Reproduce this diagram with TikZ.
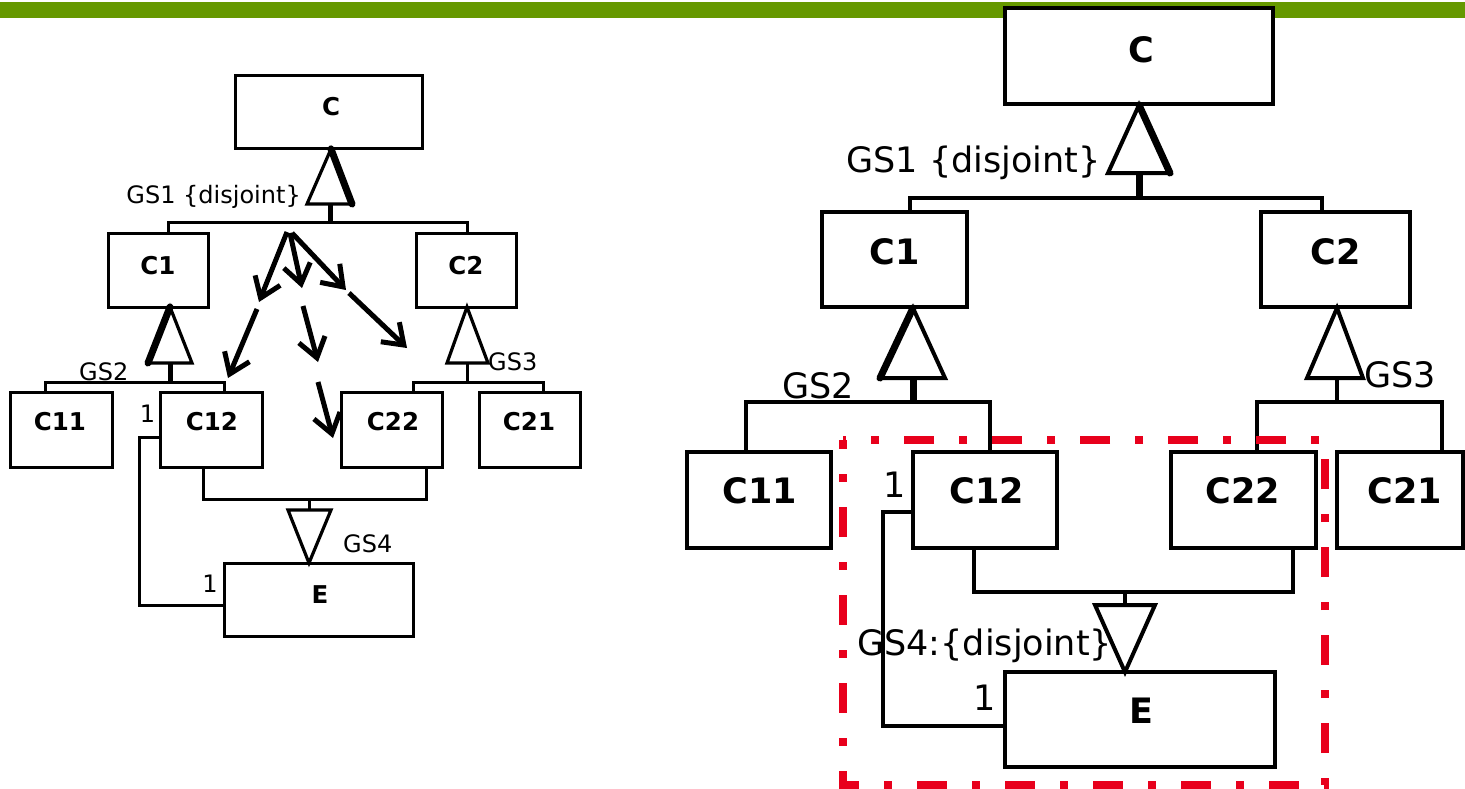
\documentclass[tikz,border=0pt]{standalone}
\usepackage{fontspec}
\setmainfont{DejaVu Sans}
\usetikzlibrary{arrows.meta}
\definecolor{barGreen}{RGB}{102,153,0}
\definecolor{dashRed}{RGB}{232,0,28}
\tikzset{
  lbox/.style={draw, line width=3pt, fill=white, inner sep=0pt},
  rbox/.style={draw, line width=3.8pt, fill=white, inner sep=0pt},
  ltxt/.style={inner sep=0pt, font=\fontsize{24}{28}\selectfont},
  lbold/.style={inner sep=0pt, font=\fontsize{24.5}{28}\selectfont\bfseries},
  rtxt/.style={inner sep=0pt, font=\fontsize{35}{40}\selectfont},
  rbold/.style={inner sep=0pt, font=\fontsize{35}{40}\selectfont\bfseries},
  lline/.style={line width=3pt},
  rline/.style={line width=3.8pt},
  ltri/.style={draw, fill=white, line width=3.2pt, line join=miter},
  rtri/.style={draw, fill=white, line width=4pt, line join=miter},
  thickside/.style={line width=7pt, line cap=round},
  arr/.style={line width=5pt, -{Straight Barb[length=19pt,width=27pt,line width=5pt]}},
  reddash/.style={draw=dashRed, line width=7.5pt, dash pattern=on 30pt off 25pt on 8pt off 25pt, dash phase=21pt},
}
\begin{document}
\begin{tikzpicture}[x=1pt,y=-1pt]
\useasboundingbox (0,0) rectangle (1465,788);
\fill[white] (0,0) rectangle (1465,788);
% green bar
\fill[barGreen] (0,2) rectangle (1465,18);

% ================= LEFT DIAGRAM =================
\node[lbox, minimum width=187pt, minimum height=73pt] (lC) at (328.5,111.5) {};
\node[lbox, minimum width=100pt, minimum height=74pt] (lC1) at (158,270) {};
\node[lbox, minimum width=100pt, minimum height=74pt] (lC2) at (466,270) {};
\node[lbox, minimum width=102pt, minimum height=75pt] (lC11) at (61,429.5) {};
\node[lbox, minimum width=102pt, minimum height=75pt] (lC12) at (211,429.5) {};
\node[lbox, minimum width=101pt, minimum height=75pt] (lC22) at (391.5,429.5) {};
\node[lbox, minimum width=101pt, minimum height=75pt] (lC21) at (529.5,429.5) {};
\node[lbox, minimum width=189pt, minimum height=73pt] (lE) at (318.5,599.5) {};

\node[lbold, anchor=base] (lCt) at (331,115.5) {C};
\node[lbold, anchor=base] (lC1t) at (158,274) {C1};
\node[lbold, anchor=base] (lC2t) at (466,274) {C2};
\node[lbold, anchor=base] (lC11t) at (60,430) {C11};
\node[lbold, anchor=base] (lC12t) at (212,430) {C12};
\node[lbold, anchor=base] (lC22t) at (393,430) {C22};
\node[lbold, anchor=base] (lC21t) at (529,430) {C21};
\node[lbold, anchor=base] (lEt) at (320,603) {E};

% GS1 generalization
\coordinate (lg1a) at (331,149);
\draw[lline] (168,233) -- (168,222) -- (467,222) -- (467,233);
\draw[line width=5pt] (330,204) -- (330,222);
\draw[ltri] (lg1a) -- (352,204) -- (307,204) -- cycle;
\draw[thickside] (lg1a) -- (352,204);
\node[ltxt, anchor=base east] (lgs1) at (301,203) {GS1 \{disjoint\}};

% GS2 generalization
\coordinate (lg2a) at (170,307);
\draw[lline] (45,392) -- (45,382) -- (224,382) -- (224,392);
\draw[line width=5pt] (170,363) -- (170,382);
\draw[ltri] (lg2a) -- (192,363) -- (148,363) -- cycle;
\draw[thickside] (lg2a) -- (148,363);
\node[ltxt, anchor=base west] (lgs2) at (79,380) {GS2};

% GS3 generalization
\coordinate (lg3a) at (467,307);
\draw[lline] (413,392) -- (413,382) -- (543,382) -- (543,392);
\draw[lline] (467,363) -- (467,382);
\draw[ltri] (lg3a) -- (488,363) -- (447,363) -- cycle;
\node[ltxt, anchor=base west] (lgs3) at (488,370) {GS3};

% GS4 generalization
\coordinate (lg4a) at (309,563);
\draw[lline] (203,467) -- (203,499) -- (426,499) -- (426,467);
\draw[lline] (309,499) -- (309,510);
\draw[ltri] (288,510) -- (331,510) -- (lg4a) -- cycle;
\node[ltxt, anchor=base west] (lgs4) at (343,552) {GS4};

% association C12 -- E
\draw[lline] (160,437) -- (139,437) -- (139,605) -- (224,605);
\node[ltxt, anchor=base] (lone1) at (147.5,422) {1};
\node[ltxt, anchor=base] (lone2) at (210,592) {1};

% arrows
\coordinate (a1s) at (287,232); \coordinate (a1m) at (259,302);
\coordinate (a1n) at (257,309); \coordinate (a1e) at (228,378);
\coordinate (a2s) at (290,233); \coordinate (a2m) at (302,288);
\coordinate (a2n) at (303,306); \coordinate (a2o) at (318,362);
\coordinate (a2p) at (318,382); \coordinate (a2e) at (333,438);
\coordinate (a3s) at (292,233); \coordinate (a3m) at (346,290);
\coordinate (a3n) at (349,293); \coordinate (a3e) at (407,348);
\draw[arr] (a1s) -- (a1m);
\draw[arr] (a1n) -- (a1e);
\draw[arr] (a2s) -- (a2m);
\draw[arr] (a2n) -- (a2o);
\draw[arr] (a2p) -- (a2e);
\draw[arr] (a3s) -- (a3m);
\draw[arr] (a3n) -- (a3e);

% ================= RIGHT DIAGRAM =================
\node[rbox, minimum width=268pt, minimum height=96pt] (rC) at (1139,56) {};
\node[rbox, minimum width=145pt, minimum height=95pt] (rC1) at (894.5,259.5) {};
\node[rbox, minimum width=149pt, minimum height=95pt] (rC2) at (1335.5,259.5) {};
\node[rbox, minimum width=144pt, minimum height=96pt] (rC11) at (759,500) {};
\node[rbox, minimum width=144pt, minimum height=96pt] (rC12) at (985,500) {};
\node[rbox, minimum width=145pt, minimum height=96pt] (rC22) at (1243.5,500) {};
\node[rbox, minimum width=126pt, minimum height=96pt] (rC21) at (1400,500) {};
\node[rbox, minimum width=270pt, minimum height=95pt] (rE) at (1140,719.5) {};

\node[rbold, anchor=base] (rCt) at (1141,62.5) {C};
\node[rbold, anchor=base] (rC1t) at (895,264.5) {C1};
\node[rbold, anchor=base] (rC2t) at (1336,264.5) {C2};
\node[rbold, anchor=base] (rC11t) at (760,503) {C11};
\node[rbold, anchor=base] (rC12t) at (987,503) {C12};
\node[rbold, anchor=base] (rC22t) at (1243,503) {C22};
\node[rbold, anchor=base] (rC21t) at (1405,503) {C21};
\node[rbold, anchor=base] (rEt) at (1141,723) {E};

% GS1
\coordinate (rg1a) at (1139,105);
\draw[rline] (910,212) -- (910,198) -- (1322,198) -- (1322,212);
\draw[line width=7pt] (1139,173) -- (1139,198);
\draw[rtri] (rg1a) -- (1170,173) -- (1108,173) -- cycle;
\draw[thickside] (rg1a) -- (1170,173);
\node[rtxt, anchor=base east] (rgs1) at (1101,172) {GS1 \{disjoint\}};

% GS2
\coordinate (rg2a) at (913,308);
\draw[rline] (746,452) -- (746,402) -- (990,402) -- (990,452);
\draw[line width=7pt] (913,378) -- (913,402);
\draw[rtri] (rg2a) -- (945,378) -- (880,378) -- cycle;
\draw[thickside] (rg2a) -- (880,378);
\node[rtxt, anchor=base west] (rgs2) at (782,398) {GS2};

% GS3
\coordinate (rg3a) at (1337,308);
\draw[rline] (1257,452) -- (1257,402) -- (1442,402) -- (1442,452);
\draw[rline] (1337,378) -- (1337,402);
\draw[rtri] (rg3a) -- (1363,378) -- (1307,378) -- cycle;
\node[rtxt, anchor=base west] (rgs3) at (1364,387) {GS3};

% GS4
\coordinate (rg4a) at (1125,672);
\draw[rline] (974,548) -- (974,592) -- (1293,592) -- (1293,548);
\draw[rline] (1125,592) -- (1125,605);
\draw[rtri] (1095,605) -- (1155,605) -- (rg4a) -- cycle;
\node[rtxt, anchor=base west] (rgs4) at (857,655) {GS4:\{disjoint\}};

% association
\draw[rline] (913,512) -- (883,512) -- (883,726) -- (1005,726);
\node[rtxt, anchor=base] (rone1) at (895,497) {1};
\node[rtxt, anchor=base] (rone2) at (985,710) {1};

% red dash-dot frame
\draw[reddash] (843,440) rectangle (1325,785);
\end{tikzpicture}
\end{document}
